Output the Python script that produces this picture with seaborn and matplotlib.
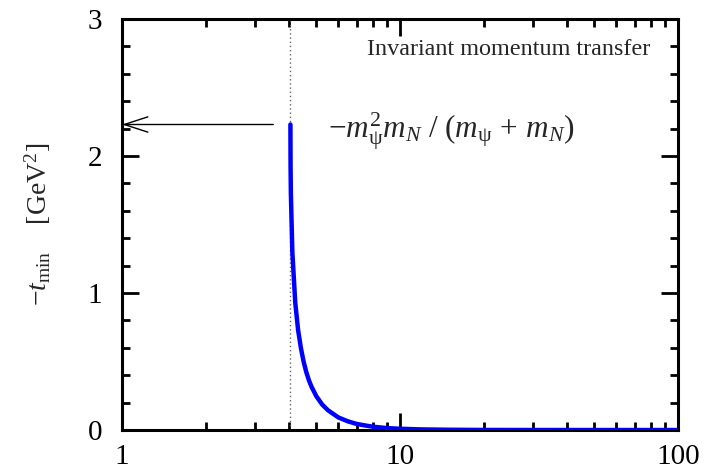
import numpy as np
import pandas as pd
import matplotlib
matplotlib.use('Agg')
import matplotlib.pyplot as plt
import matplotlib.ticker as mticker
import seaborn as sns

sns.set_theme(style='ticks')
plt.rcParams['font.family'] = ['Liberation Serif', 'DejaVu Serif']
plt.rcParams['mathtext.fontset'] = 'custom'
plt.rcParams['mathtext.rm'] = 'Liberation Serif'
plt.rcParams['mathtext.it'] = 'Liberation Serif:italic'
plt.rcParams['mathtext.bf'] = 'Liberation Serif:bold'

# -t_min vs W
W_GEV   = [4.035, 4.04, 4.05, 4.1, 4.2, 4.3, 4.4, 4.5, 4.6, 4.7, 4.8, 5.0, 5.25, 5.5,
           6.0, 6.5, 7.0, 7.5, 8.0, 9.0, 10.0, 12.0, 15.0, 20.0, 30.0, 50.0, 100.0]
TMIN    = [2.23, 1.93, 1.73, 1.30, 0.93, 0.73, 0.60, 0.50, 0.424, 0.365, 0.318, 0.247,
           0.186, 0.145, 0.092, 0.063, 0.044, 0.033, 0.024, 0.014, 0.009, 0.0045,
           0.002, 0.0005, 0.0001, 0.0, 0.0]
W_THR   = 4.035
T_THR   = 2.23
ARROW_FROM = 3.5

df = pd.DataFrame({'W': W_GEV, 'tmin': TMIN})

fig = plt.figure(figsize=(7.06, 4.74), dpi=100)
ax = fig.add_axes([0.1728, 0.0928, 0.9603 - 0.1728, 0.9599 - 0.0928])

ax.axvline(W_THR, color='#666666', ls=(0, (1, 2)), lw=1.0, zorder=1)
sns.lineplot(data=df, x='W', y='tmin', color='#0000ff', lw=3.2, ax=ax, zorder=3)

ax.annotate('', xy=(1.0, T_THR), xytext=(ARROW_FROM, T_THR),
            arrowprops=dict(arrowstyle='->,head_length=1.7,head_width=0.55',
                            mutation_scale=10, lw=1.0, color='black',
                            shrinkA=0, shrinkB=0))

ax.set_xscale('log')
ax.set_xlim(1, 100)
ax.set_ylim(0, 3)
ax.xaxis.set_major_locator(mticker.FixedLocator([1, 10, 100]))
ax.xaxis.set_major_formatter(mticker.FixedFormatter(['1', '10', '100']))
ax.xaxis.set_minor_locator(mticker.LogLocator(base=10, subs=np.arange(2, 10)))
ax.xaxis.set_minor_formatter(mticker.NullFormatter())
ax.yaxis.set_major_locator(mticker.MultipleLocator(1))
ax.yaxis.set_minor_locator(mticker.MultipleLocator(0.2))

ax.tick_params(which='both', direction='in', top=True, right=True, width=2,
               labelsize=21, color='black', labelcolor='black')
ax.tick_params(axis='y', which='major', length=12, pad=14)
ax.tick_params(axis='x', which='major', length=12, pad=10)
ax.tick_params(which='minor', length=6)
for sp in ax.spines.values():
    sp.set_linewidth(2.2)
    sp.set_color('black')

ax.set_xlabel('')
ax.set_ylabel(r'$-t_{\rm min}$    [GeV$^2$]', fontsize=20, labelpad=25)

ax.text(0.95, 0.925, 'Invariant momentum transfer', transform=ax.transAxes,
        ha='right', va='center', fontsize=17.4)
ax.text(0.3705, 0.7275,
        r'$-m_{\mathrm{\psi}}^2m_N\ /\ (m_{\mathrm{\psi}}\,+\,m_N)$',
        transform=ax.transAxes, ha='left', va='center', fontsize=22.5)

plt.savefig('out.png', dpi=100)
plt.close()
